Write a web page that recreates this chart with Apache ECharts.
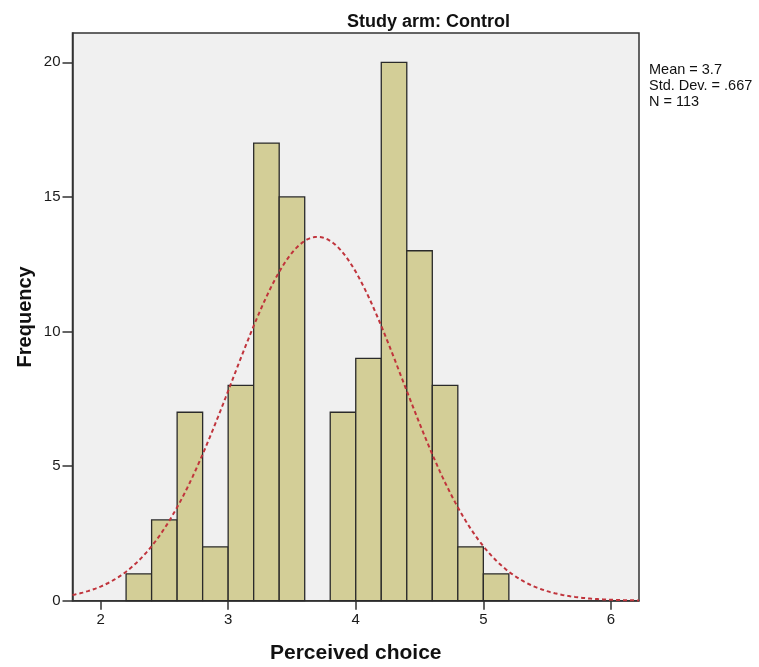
<!DOCTYPE html>
<html>
<head>
<meta charset="utf-8">
<script src="https://cdn.jsdelivr.net/npm/echarts@6/dist/echarts.min.js"></script>
<style>html,body{margin:0;padding:0;background:#fff}#c{width:759px;height:667px}</style>
</head>
<body>
<div id="c"></div>
<script>
// Histogram bins (lower edges) and counts
var binLower = [2.2, 2.4, 2.6, 2.8, 3.0, 3.2, 3.4, 3.6, 3.8, 4.0, 4.2, 4.4, 4.6, 4.8, 5.0];
var counts   = [1,   3,   7,   2,   8,   17,  15,  0,   7,   9,   20,  13,  8,   2,   1];
var binWidth = 0.2;
// Summary statistics shown in the chart
var statMean = 3.7;
var statSD = 0.667;
var statN = 113;
// Tick labels
var xTicks = [2, 3, 4, 5, 6];
var yTicks = [0, 5, 10, 15, 20];

// Normal curve overlay defined by stated mean / sd / N
var curve = [];
for (var x = 1.78; x <= 6.2201; x += 0.02) {
  var z = (x - statMean) / statSD;
  curve.push([x, statN * binWidth * Math.exp(-0.5 * z * z) / (statSD * Math.sqrt(2 * Math.PI))]);
}

var barData = binLower.map(function (lo, i) { return [lo, counts[i]]; });

var chart = echarts.init(document.getElementById('c'));
chart.setOption({
  animation: false,
  title: {
    text: 'Study arm: Control',
    left: 342, top: 8,
    textStyle: { fontFamily: 'Liberation Sans, Arial', fontSize: 18, fontWeight: 'bold', color: '#111' }
  },
  grid: {
    left: 72.5, top: 33, right: 120, bottom: 66.3,
    outerBoundsMode: 'none', containLabel: false,
    show: true, backgroundColor: '#F0F0F0', borderColor: '#333', borderWidth: 1.5
  },
  xAxis: {
    type: 'value', min: 1.78, max: 6.22,
    name: 'Perceived choice', nameLocation: 'middle', nameGap: 42,
    nameTextStyle: { fontFamily: 'Liberation Sans, Arial', fontSize: 21, fontWeight: 'bold', color: '#111' },
    axisLine: { show: true, lineStyle: { color: '#333', width: 1.5 } },
    axisTick: { show: true, inside: false, length: 9, lineStyle: { color: '#333', width: 1.5 }, customValues: xTicks },
    axisLabel: { color: '#1a1a1a', fontFamily: 'Liberation Sans, Arial', fontSize: 15, margin: 12, customValues: xTicks },
    splitLine: { show: false }
  },
  yAxis: {
    type: 'value', min: 0, max: 21.09,
    name: 'Frequency', nameLocation: 'middle', nameGap: 37, nameRotate: 90, nameMoveOverlap: false,
    nameTextStyle: { fontFamily: 'Liberation Sans, Arial', fontSize: 20, fontWeight: 'bold', color: '#111' },
    axisLine: { show: true, lineStyle: { color: '#333', width: 1.5 } },
    axisTick: { show: true, inside: false, length: 10, lineStyle: { color: '#333', width: 1.5 }, customValues: yTicks },
    axisLabel: { color: '#1a1a1a', fontFamily: 'Liberation Sans, Arial', fontSize: 15, margin: 12, customValues: yTicks },
    splitLine: { show: false }
  },
  graphic: [{
    type: 'text', left: 649, top: 62,
    style: {
      text: 'Mean = ' + statMean + '\nStd. Dev. = ' + String(statSD).replace(/^0/, '') + '\nN = ' + statN,
      font: '14.5px "Liberation Sans", Arial', fill: '#111', lineHeight: 16
    }
  }],
  series: [{
    type: 'custom',
    data: barData,
    renderItem: function (params, api) {
      var lo = api.value(0), c = api.value(1);
      if (c <= 0) return null;
      var p1 = api.coord([lo, c]);
      var p2 = api.coord([lo + binWidth, 0]);
      return {
        type: 'rect',
        shape: { x: p1[0], y: p1[1], width: p2[0] - p1[0], height: p2[1] - p1[1] },
        style: { fill: '#D3CE97', stroke: '#2a2a2a', lineWidth: 1.3 }
      };
    },
    encode: { x: 0, y: 1 },
    z: 2
  }, {
    type: 'line',
    data: curve,
    showSymbol: false,
    smooth: false,
    lineStyle: { color: '#C0343C', width: 2, type: [4, 3] },
    z: 3
  }]
});
</script>
</body>
</html>
